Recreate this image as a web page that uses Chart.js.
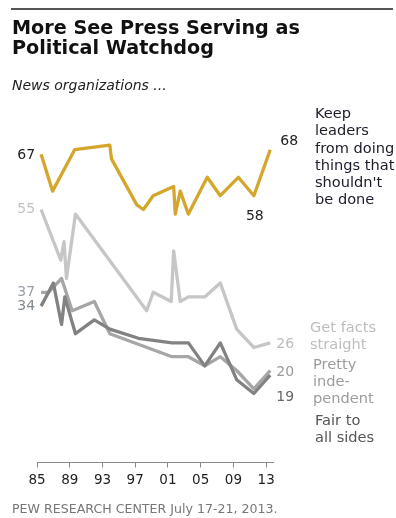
<!DOCTYPE html>
<html>
<head>
<meta charset="utf-8">
<script src="https://cdn.jsdelivr.net/npm/chart.js@4.4.0/dist/chart.umd.min.js"></script>
<style>
  body { margin: 0; background: #fff; }
  #wrap { position: relative; width: 396px; height: 518px; overflow: hidden; font-family: "DejaVu Sans", Verdana, sans-serif; }
  #wrap canvas { position: absolute; left: 0; top: 0; }
  .rule { position: absolute; left: 11px; top: 8px; width: 382px; height: 2px; background: #555; }
  h1 { position: absolute; left: 12px; top: 18px; margin: 0; font-size: 19.2px; line-height: 20px; font-weight: bold; color: #111; }
  .sub { position: absolute; left: 12px; top: 77px; font-size: 14px; line-height: 16px; font-style: italic; color: #222; }
  .src { position: absolute; left: 12px; top: 501px; font-size: 12.6px; line-height: 15px; color: #777; white-space: nowrap; }
</style>
</head>
<body>
<div id="wrap">
  <canvas id="myChart" width="396" height="518"></canvas>
  <div class="rule"></div>
  <h1>More See Press Serving as<br>Political Watchdog</h1>
  <div class="sub">News organizations ...</div>
  <div class="src">PEW RESEARCH CENTER July 17-21, 2013.</div>
</div>
<script>
const tickYears = [1985, 1989, 1993, 1997, 2001, 2005, 2009, 2013];
const tickLabels = ['85', '89', '93', '97', '01', '05', '09', '13'];

// keep leaders from doing things that shouldn't be done
const watchdogYears = [1985.5, 1986.9, 1989.6, 1993.9, 1994.1, 1997.2, 1998.0, 1999.2, 2001.7, 2001.9, 2002.5, 2003.5, 2005.8, 2007.4, 2009.6, 2011.5, 2013.5];
const watchdogValues = [67, 59, 68, 69, 66, 56, 55, 58, 60, 54, 59, 54, 62, 58, 62, 58, 68];

// get facts straight
const factsYears = [1985.5, 1987.9, 1988.3, 1988.6, 1989.7, 1998.4, 1999.2, 2001.4, 2001.7, 2002.5, 2003.5, 2005.5, 2007.4, 2009.4, 2011.5, 2013.5];
const factsValues = [55, 44, 48, 40, 54, 33, 37, 35, 46, 35, 36, 36, 39, 29, 25, 26];

// pretty independent
const independentYears = [1985.5, 1986.4, 1988.0, 1989.3, 1992.0, 1993.9, 2001.5, 2003.5, 2005.5, 2007.4, 2009.4, 2011.5, 2013.5];
const independentValues = [37, 37, 40, 33, 35, 28, 23, 23, 21, 23, 20, 16, 20];

// fair to all sides
const fairYears = [1985.5, 1987.0, 1988.0, 1988.4, 1989.7, 1992.0, 1993.9, 1997.4, 2001.5, 2003.5, 2005.5, 2007.4, 2009.4, 2011.5, 2013.5];
const fairValues = [34, 39, 30, 36, 28, 31, 29, 27, 26, 26, 21, 26, 18, 15, 19];

const toPoints = (xs, ys) => xs.map((x, i) => ({ x: x, y: ys[i] }));

const series = [
  {
    label: 'Keep leaders from doing things that shouldn\'t be done',
    data: toPoints(watchdogYears, watchdogValues),
    borderColor: '#D4A72C',
    name: ['Keep', 'leaders', 'from doing', 'things that', 'shouldn\'t', 'be done'],
    nameX: 315, nameY: 114.5, nameColor: '#1c1c2a',
    marks: [
      { index: 0, dx: -6, dy: 1, align: 'right', color: '#222' },
      { index: 15, dx: 1, dy: 21, align: 'center', color: '#222' },
      { index: -1, dx: 10, dy: -8, align: 'left', color: '#222' }
    ]
  },
  {
    label: 'Get facts straight',
    data: toPoints(factsYears, factsValues),
    borderColor: '#C6C6C6',
    name: ['Get facts', 'straight'],
    nameX: 310, nameY: 328.5, nameColor: '#bdbdbd',
    marks: [
      { index: 0, dx: -6, dy: 0, align: 'right', color: '#c2c2c2' },
      { index: -1, dx: 6, dy: 1, align: 'left', color: '#bdbdbd' }
    ]
  },
  {
    label: 'Pretty independent',
    data: toPoints(independentYears, independentValues),
    borderColor: '#A6A6A6',
    name: ['Pretty', 'inde-', 'pendent'],
    nameX: 313, nameY: 365, nameColor: '#9c9c9c',
    marks: [
      { index: 0, dx: -6, dy: 0, align: 'right', color: '#9aa0a8' },
      { index: -1, dx: 6, dy: 2, align: 'left', color: '#999' }
    ]
  },
  {
    label: 'Fair to all sides',
    data: toPoints(fairYears, fairValues),
    borderColor: '#828282',
    name: ['Fair to', 'all sides'],
    nameX: 315, nameY: 421, nameColor: '#555',
    marks: [
      { index: 0, dx: -6, dy: 0, align: 'right', color: '#808890' },
      { index: -1, dx: 6, dy: 22, align: 'left', color: '#666' }
    ]
  }
];

const lineLabels = {
  id: 'lineLabels',
  afterDatasetsDraw(chart) {
    const ctx = chart.ctx;
    ctx.save();
    ctx.textBaseline = 'middle';
    chart.data.datasets.forEach((ds, i) => {
      const pts = chart.getDatasetMeta(i).data;
      ctx.font = '14px "DejaVu Sans"';
      ds.marks.forEach(m => {
        const k = m.index < 0 ? pts.length + m.index : m.index;
        ctx.fillStyle = m.color;
        ctx.textAlign = m.align;
        ctx.fillText(String(ds.data[k].y), pts[k].x + m.dx, pts[k].y + m.dy);
      });
      ctx.font = '14.6px "DejaVu Sans"';
      ctx.textAlign = 'left';
      ctx.fillStyle = ds.nameColor;
      ds.name.forEach((t, j) => ctx.fillText(t, ds.nameX, ds.nameY + j * 17.2));
    });
    ctx.restore();
  }
};

const config = {
  type: 'line',
  data: {
    datasets: series.map((s, i) => Object.assign({
      borderWidth: 3.3,
      pointRadius: 0,
      tension: 0,
      fill: false,
      clip: false,
      borderJoinStyle: 'round',
      order: [0, 3, 2, 1][i]
    }, s))
  },
  options: {
    responsive: false,
    animation: false,
    devicePixelRatio: 1,
    layout: { padding: { left: 37, right: 122.5, top: 117.5, bottom: 20.5 } },
    plugins: {
      legend: { display: false },
      tooltip: { enabled: false }
    },
    scales: {
      x: {
        type: 'linear',
        min: 1985,
        max: 2013.9,
        afterBuildTicks: scale => { scale.ticks = tickYears.map(v => ({ value: v })); },
        afterFit: scale => { scale.height = 35; },
        ticks: {
          autoSkip: false,
          maxRotation: 0,
          padding: 5,
          color: '#222',
          font: { family: 'DejaVu Sans', size: 13.5 },
          callback: value => tickLabels[tickYears.indexOf(value)]
        },
        grid: { drawOnChartArea: false, drawTicks: true, tickLength: 5, color: '#8a8a8a' },
        border: { display: true, color: '#8a8a8a', width: 1 }
      },
      y: {
        display: false,
        min: 0,
        max: 75
      }
    }
  },
  plugins: [lineLabels]
};

const myChart = new Chart(document.getElementById('myChart'), config);
</script>
</body>
</html>
